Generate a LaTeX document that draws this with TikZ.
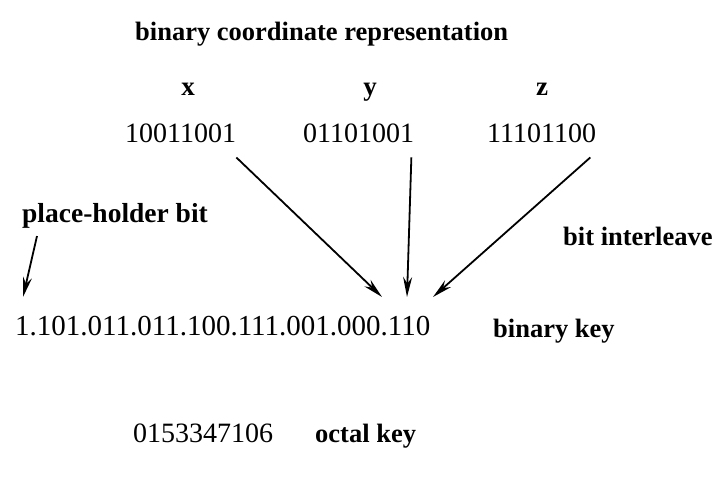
\documentclass[tikz,border=0pt]{standalone}
\usepackage{fontspec}
\setmainfont{Liberation Serif}
\usetikzlibrary{arrows.meta}
\begin{document}
\begin{tikzpicture}[x=1pt,y=-1pt,
  lbl/.style={font=\fontsize{26.5}{30}\selectfont\bfseries, inner sep=0pt, anchor=base west},
  bits/.style={font=\fontsize{28}{32}\selectfont, inner sep=0pt, anchor=base west},
  axis/.style={font=\fontsize{27}{30}\selectfont\bfseries, inner sep=0pt, anchor=base},
  arr/.style={line width=1.8pt, -{Stealth[length=20pt,width=9pt]}}]
\useasboundingbox[fill=white] (0,0) rectangle (717,482);
\node[lbl] (title) at (135,40) {binary coordinate representation};
\node[axis] (xl) at (188,95) {x};
\node[axis] (yl) at (370,95) {y};
\node[axis] (zl) at (542,95) {z};
\node[bits] (xb) at (125,142) {10011001};
\node[bits] (yb) at (303,142) {01101001};
\node[bits] (zb) at (487,142) {11101100};
\node[lbl, font=\fontsize{27.5}{30}\selectfont\bfseries] (ph) at (22,222) {place-holder bit};
\node[lbl] (bi) at (563,245) {bit interleave};
\node[bits, font=\fontsize{29}{32}\selectfont] (key) at (15,335) {1.101.011.011.100.111.001.000.110};
\node[lbl] (bk) at (493,337) {binary key};
\node[bits] (oct) at (133,442) {0153347106};
\node[lbl] (ok) at (315,442) {octal key};
\coordinate (tx) at (382,297);
\coordinate (ty) at (407,297);
\coordinate (tz) at (433,297);
\coordinate (tp) at (23,297);
\draw[arr] (xb.south east) ++(0,15) -- (tx);
\draw[arr] (yb.south east) ++(-3,15) -- (ty);
\draw[arr] (zb.south east) ++(-6,15) -- (tz);
\draw[arr] (ph.south west) ++(15,8) -- (tp);
\end{tikzpicture}
\end{document}
